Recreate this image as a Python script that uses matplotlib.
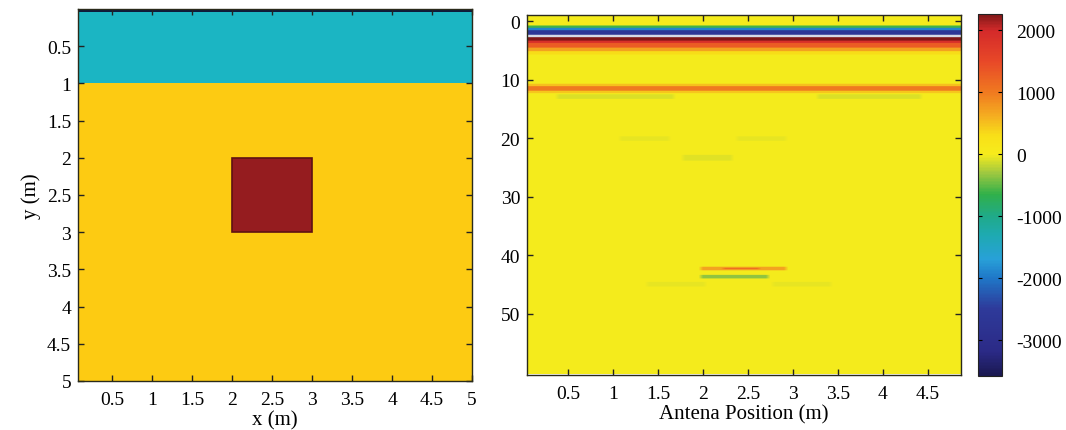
import numpy as np
import matplotlib
matplotlib.use("Agg")
import matplotlib.pyplot as plt
from matplotlib.colors import ListedColormap, LinearSegmentedColormap
from matplotlib.patches import Rectangle

plt.rcParams['font.family'] = ['Liberation Serif', 'DejaVu Serif']
plt.rcParams['font.size'] = 14

# ---- geometry model (left) ----
model_colors = ['#0e1a3c', '#1bb5c3', '#fdcb12', '#951c1f']
layer_tops = [0.0, 0.04, 1.0]          # depth (m) where each layer starts
layer_bottoms = [0.04, 1.0, 5.0]
layer_material = [0, 1, 2]
square_x = [2.0, 3.0]
square_y = [2.0, 3.0]
square_material = 3
model_ticks = [0.5, 1, 1.5, 2, 2.5, 3, 3.5, 4, 4.5, 5]

# ---- B-scan (right) ----
trace_x = np.arange(0.05, 4.86, 0.05)      # antenna positions
time_y = np.arange(-1.0, 60.6, 0.2)        # time samples
# (y_top, y_bottom, x_left, x_right, amplitude)
bscan_bands = [
    (0.6, 1.0, 0.0, 5.0, -600),
    (1.0, 1.4, 0.0, 5.0, -1900),
    (1.4, 2.3, 0.0, 5.0, -2600),
    (2.3, 2.65, 0.0, 5.0, np.nan),
    (2.65, 3.2, 0.0, 5.0, 2260),
    (3.2, 3.7, 0.0, 5.0, 1900),
    (3.7, 4.4, 0.0, 5.0, 1300),
    (4.4, 5.1, 0.0, 5.0, 700),
    (5.1, 5.7, 0.0, 5.0, 300),
    (10.6, 11.0, 0.0, 5.0, 500),
    (11.0, 11.8, 0.0, 5.0, 1000),
    (11.8, 12.2, 0.0, 5.0, 450),
    (12.5, 13.2, 0.4, 1.7, -110),
    (12.5, 13.2, 3.3, 4.4, -110),
    (19.6, 20.4, 1.1, 1.6, -50),
    (19.6, 20.4, 2.4, 2.9, -50),
    (22.8, 23.8, 1.8, 2.3, -70),
    (42.0, 42.6, 2.0, 2.9, 700),
    (42.2, 42.5, 2.2, 2.6, 1100),
    (43.5, 44.1, 2.0, 2.7, -350),
    (44.6, 45.4, 1.4, 2.0, -50),
    (44.6, 45.4, 2.8, 3.4, -50),
]
bscan_xticks = [0.5, 1, 1.5, 2, 2.5, 3, 3.5, 4, 4.5]
bscan_yticks = [0, 10, 20, 30, 40, 50]
cbar_ticks = [2000, 1000, 0, -1000, -2000, -3000]
vmin, vmax = -3580, 2260

# colour scale
cbar_values = [-3580, -3200, -2500, -2000, -1700, -1300, -1000, -650, -300,
               0, 300, 600, 1000, 1500, 2000, 2260]
cbar_colors = ['#1a1850', '#2b2a86', '#2e3a9a', '#1f78c8', '#28a0d8', '#1eaab0',
               '#20aa88', '#30b04a', '#a0c840', '#f7ec1c', '#f8e018', '#f5b020',
               '#f07a20', '#e84828', '#d42a2a', '#801818']

fig = plt.figure(figsize=(10.66, 4.31), dpi=100)

# left panel
ax1 = fig.add_axes([0.0732, 0.1137, 0.3696, 0.8631])
gx = np.linspace(0.0, 5.0, 501)
gy = np.linspace(0.0, 5.0, 501)
XX, YY = np.meshgrid(gx, gy)
model = np.zeros_like(XX, dtype=int)
for t, b, m in zip(layer_tops, layer_bottoms, layer_material):
    model[(YY >= t) & (YY < b + 0.01)] = m
inside = (XX >= square_x[0]) & (XX <= square_x[1]) & (YY >= square_y[0]) & (YY <= square_y[1])
model[inside] = square_material
ax1.imshow(model, cmap=ListedColormap(model_colors), vmin=0, vmax=3,
           extent=[0, 5, 5, 0], aspect='auto', interpolation='nearest')
ax1.add_patch(Rectangle((square_x[0], square_y[0]), square_x[1] - square_x[0],
                        square_y[1] - square_y[0], fill=False, ec='#5e1212', lw=1.2))
ax1.set_xlim(0.07, 5)
ax1.set_ylim(5, 0)
ax1.set_xticks(model_ticks)
ax1.set_xticklabels([f'{v:g}' for v in model_ticks])
ax1.set_yticks(model_ticks)
ax1.set_yticklabels([f'{v:g}' for v in model_ticks])
ax1.set_xlabel('x (m)', fontsize=15, labelpad=2)
ax1.set_ylabel('y (m)', fontsize=15, labelpad=4)

# right panel
ax2 = fig.add_axes([0.4944, 0.1276, 0.4071, 0.8353])
TX, TY = np.meshgrid(trace_x, time_y)
bscan = np.zeros_like(TX)
for y0, y1, x0, x1, a in bscan_bands:
    bscan[(TY >= y0) & (TY < y1) & (TX >= x0) & (TX <= x1)] = a
pos = [(v - vmin) / (vmax - vmin) for v in cbar_values]
cmap = LinearSegmentedColormap.from_list('ref', list(zip(pos, cbar_colors)))
cmap.set_bad('#d6dbe6')
im = ax2.imshow(np.ma.masked_invalid(bscan), cmap=cmap, vmin=vmin, vmax=vmax,
                extent=[trace_x[0] - 0.025, trace_x[-1] + 0.025, time_y[-1], time_y[0]],
                aspect='auto', interpolation='bilinear')
ax2.set_xlim(0.04, 4.87)
ax2.set_ylim(60.5, -1.1)
ax2.set_xticks(bscan_xticks)
ax2.set_xticklabels([f'{v:g}' for v in bscan_xticks])
ax2.set_yticks(bscan_yticks)
ax2.set_xlabel('Antena Position (m)', fontsize=15, labelpad=2)

for ax in (ax1, ax2):
    ax.tick_params(direction='in', top=True, right=True, length=4, width=1,
                   color='#222222', pad=5)
    ax.tick_params(axis='x', pad=7)
    for s in ax.spines.values():
        s.set_color('#2a2a1a')
        s.set_linewidth(1.0)

cax = fig.add_axes([0.9174, 0.1253, 0.0225, 0.8399])
cb = fig.colorbar(im, cax=cax)
cb.set_ticks(cbar_ticks)
cb.set_ticklabels([str(v) for v in cbar_ticks])
cb.ax.tick_params(direction='in', left=True, right=True, length=3, pad=10)
cb.outline.set_color('#222222')

fig.savefig('out.png', dpi=100)
